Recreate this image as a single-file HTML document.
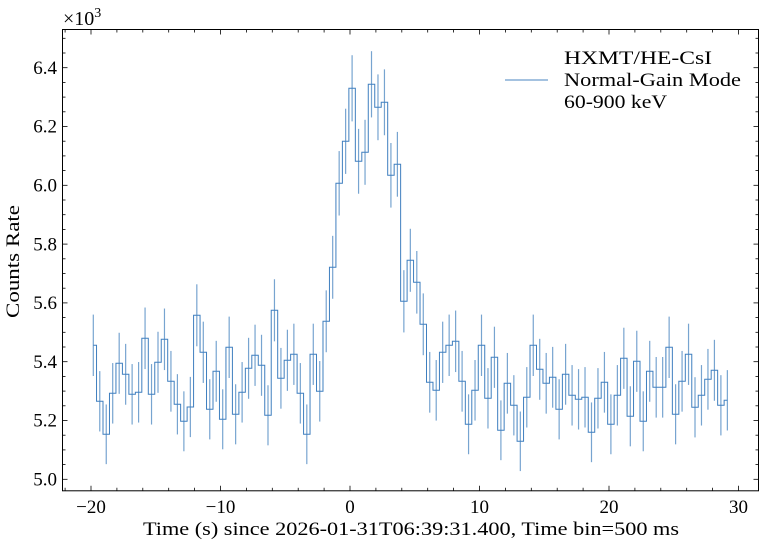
<!DOCTYPE html>
<html><head><meta charset="utf-8"><style>
html,body{margin:0;padding:0;background:#fff;}
svg{display:block;font-family:"Liberation Serif","DejaVu Serif",serif;}
</style></head><body>
<svg id="s" width="763" height="545" viewBox="0 0 763 545" xmlns="http://www.w3.org/2000/svg">
<g id="data"></g>
<rect x="62.5" y="29.5" width="696" height="461.3" fill="none" stroke="#000" stroke-width="1"/>
<g id="ticks" stroke="#000" stroke-width="0.8"></g>
<g font-size="19" fill="#000">
<text x="91" y="513" text-anchor="middle">−20</text>
<text x="220.5" y="513" text-anchor="middle">−10</text>
<text x="350" y="513" text-anchor="middle">0</text>
<text x="479.5" y="513" text-anchor="middle">10</text>
<text x="609" y="513" text-anchor="middle">20</text>
<text x="738.5" y="513" text-anchor="middle">30</text>
<text x="57" y="485.5" text-anchor="end">5.0</text>
<text x="57" y="426.7" text-anchor="end">5.2</text>
<text x="57" y="367.9" text-anchor="end">5.4</text>
<text x="57" y="309.1" text-anchor="end">5.6</text>
<text x="57" y="250.3" text-anchor="end">5.8</text>
<text x="57" y="191.5" text-anchor="end">6.0</text>
<text x="57" y="132.7" text-anchor="end">6.2</text>
<text x="57" y="73.9" text-anchor="end">6.4</text>
<text x="63" y="25" font-size="20">×10<tspan font-size="14" dy="-8">3</tspan></text>
<text x="143" y="535" textLength="536" lengthAdjust="spacingAndGlyphs">Time (s) since 2026-01-31T06:39:31.400, Time bin=500 ms</text>
<text transform="translate(19,318) rotate(-90)" textLength="113" lengthAdjust="spacingAndGlyphs">Counts Rate</text>
<text x="564" y="64" textLength="148" lengthAdjust="spacingAndGlyphs">HXMT/HE-CsI</text>
<text x="564" y="86" textLength="177" lengthAdjust="spacingAndGlyphs">Normal-Gain Mode</text>
<text x="564" y="108" textLength="103" lengthAdjust="spacingAndGlyphs">60-900 keV</text>
</g>
<line x1="505" y1="80" x2="548" y2="80" stroke="#4a86c0" stroke-width="1"/>
</svg>
<script>
var L=[345.3,401.3,434.3,393.3,363.3,374.3,394.3,392.3,338.3,394.3,362.3,339.3,381.3,404.3,421.3,407,315.3,352.3,409.3,371.3,419.3,347.3,414.3,392.3,368.3,355.3,365.3,415.3,310.3,378.3,360.3,354.3,393.3,434.3,354.3,391.3,321.3,267.3,183.3,141.3,88.3,161.3,152.3,84.3,107.3,102.3,175.3,164.3,301.3,260.3,282.3,324.3,382.3,390.3,352.3,345.3,341.3,381.3,424.3,390.3,345.3,398.3,357.3,430.3,383.3,405.3,441.3,397.3,345.3,369.3,383.3,377.3,409.3,374.3,395.3,399.3,397.3,432.3,398.3,382.3,424.3,395.3,358.3,416.3,361.3,421.3,371.3,387.3,387.3,347.3,414.3,381.3,354.3,407.3,395.3,379.3,370.3,405.3,400.3];
var g=document.getElementById("data"),h="";
function cx(i){return 93.3+i*6.47;}
var d="M"+cx(0)+","+L[0];
for(var i=1;i<L.length;i++){var m=(cx(i-1)+cx(i))/2;d+=" H"+m.toFixed(2)+" V"+L[i];}
d+=" H"+cx(L.length-1);
for(var i=0;i<L.length;i++){var v=5+(479.3-L[i])/294;var e=Math.sqrt(v*500)/0.5/1000*294;
h+='<line x1="'+cx(i)+'" x2="'+cx(i)+'" y1="'+(L[i]-e)+'" y2="'+(L[i]+e)+'" stroke="#4a86c0" stroke-opacity="0.75" stroke-width="1.2"/>';}
h+='<path d="'+d+'" fill="none" stroke="#3f7fbf" stroke-width="1"/>';
g.innerHTML=h;
var t="";
for(var k=-22;k<=32;k+=2){var x=91+(k+20)*12.95;if(x<62.5||x>758.5)continue;var len=(k%10==0)?5:3;
t+='<line x1="'+x+'" x2="'+x+'" y1="490.8" y2="'+(490.8-len)+'"/><line x1="'+x+'" x2="'+x+'" y1="29.5" y2="'+(29.5+len)+'"/>';}
for(var j=0;j<40;j++){var val=4.95+j*0.05;var y=479.3-(val-5)*294;if(y<29.5||y>490.8)continue;var len=(Math.abs(Math.round(val*5)-val*5)<1e-6)?5:3;
t+='<line x1="62.5" x2="'+(62.5+len)+'" y1="'+y+'" y2="'+y+'"/><line x1="758.5" x2="'+(758.5-len)+'" y1="'+y+'" y2="'+y+'"/>';}
document.getElementById("ticks").innerHTML=t;
</script>
</body></html>
